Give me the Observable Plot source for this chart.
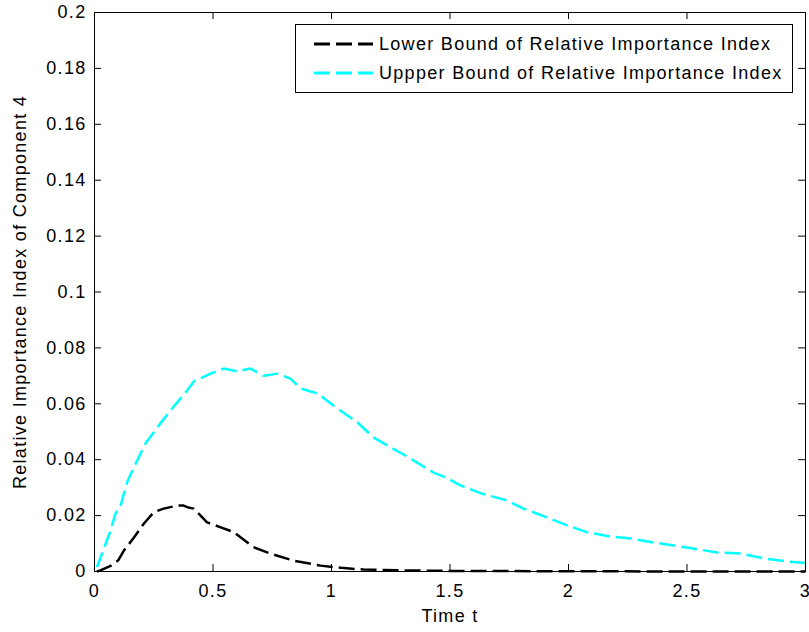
<!DOCTYPE html>
<html>
<head>
<meta charset="utf-8">
<script src="https://cdn.jsdelivr.net/npm/d3@7"></script>
<script src="https://cdn.jsdelivr.net/npm/@observablehq/plot@0.6"></script>
<style>
  html, body { margin: 0; padding: 0; background: #fff; }
  #wrap { position: relative; width: 809px; height: 632px; overflow: hidden; }
  #legend { position: absolute; left: 295px; top: 24px; width: 496px; height: 67px;
    border: 1px solid #000; background: #fff; font-family: "Liberation Sans", Arial, sans-serif;
    font-size: 18px; letter-spacing: 1.3px; color: #000; }
  .row { position: absolute; left: 0; height: 20px; display: flex; align-items: center; }
  .row svg { margin-left: 18px; margin-right: 6px; }
</style>
</head>
<body>
<div id="wrap"></div>
<script>
// Lower bound series (black)
const lowerT = [0.01, 0.025, 0.068, 0.1, 0.124, 0.165, 0.194, 0.207, 0.25, 0.292, 0.35, 0.376, 0.392, 0.419, 0.435, 0.475, 0.53, 0.587, 0.671, 0.743, 0.84, 0.954, 1.04, 1.135, 1.3, 1.5, 2.0, 2.5, 3.0];
const lowerV = [0.0, 0.0004, 0.002, 0.004, 0.0075, 0.012, 0.0154, 0.017, 0.0212, 0.0225, 0.0236, 0.0236, 0.023, 0.0225, 0.0211, 0.0176, 0.0159, 0.0141, 0.0087, 0.0064, 0.0039, 0.0021, 0.0013, 0.0007, 0.0004, 0.0002, 0.0001, 0.0, 0.0];
// Upper bound series (cyan)
const upperT = [0.01, 0.018, 0.068, 0.089, 0.11, 0.138, 0.165, 0.215, 0.278, 0.334, 0.384, 0.419, 0.49, 0.545, 0.603, 0.658, 0.714, 0.772, 0.827, 0.869, 0.941, 1.025, 1.11, 1.177, 1.249, 1.312, 1.43, 1.481, 1.544, 1.637, 1.742, 1.81, 1.911, 1.995, 2.08, 2.177, 2.262, 2.359, 2.443, 2.527, 2.628, 2.726, 2.823, 2.924, 3.0];
const upperV = [0.0015, 0.0033, 0.0147, 0.0208, 0.0236, 0.032, 0.037, 0.0458, 0.053, 0.059, 0.064, 0.068, 0.0708, 0.0726, 0.0716, 0.0726, 0.070, 0.0708, 0.069, 0.0655, 0.0637, 0.0583, 0.0533, 0.048, 0.0444, 0.0415, 0.0354, 0.0337, 0.0308, 0.0278, 0.0254, 0.0225, 0.0193, 0.0165, 0.014, 0.0125, 0.0118, 0.0104, 0.0093, 0.0082, 0.0068, 0.0064, 0.0047, 0.0036, 0.003];

const xTicks = [0, 0.5, 1, 1.5, 2, 2.5, 3];
const yTicks = [0, 0.02, 0.04, 0.06, 0.08, 0.1, 0.12, 0.14, 0.16, 0.18, 0.2];
const seriesNames = ["Lower Bound of Relative Importance Index", "Uppper Bound of Relative Importance Index"];
const seriesColors = ["#000000", "#00ffff"];
const xLabel = "Time t";
const yLabel = "Relative Importance Index of Component 4";

const lower = lowerT.map((t, i) => ({t, v: lowerV[i]}));
const upper = upperT.map((t, i) => ({t, v: upperV[i]}));

const W = 809, H = 632, mL = 94, mR = 4, mT = 12, mB = 61;
const innerW = W - mL - mR, innerH = H - mT - mB;
const tickLen = 7;
const dash = "16,6";

const chart = Plot.plot({
  width: W, height: H,
  marginLeft: mL, marginRight: mR, marginTop: mT, marginBottom: mB,
  style: {fontFamily: "'Liberation Sans', Arial, sans-serif", fontSize: "18px", letterSpacing: "1.3px", color: "#000", background: "#fff", overflow: "visible"},
  x: {domain: [0, 3]},
  y: {domain: [0, 0.2]},
  marks: [
    Plot.line(upper, {x: "t", y: "v", stroke: seriesColors[1], strokeWidth: 2.5, strokeDasharray: dash, strokeLinecap: "butt"}),
    Plot.line(lower, {x: "t", y: "v", stroke: seriesColors[0], strokeWidth: 2.5, strokeDasharray: dash, strokeLinecap: "butt"}),
    Plot.frame({stroke: "#000", strokeWidth: 1}),
    // inward ticks on all four sides
    Plot.tickX(xTicks, {x: d => d, stroke: "#000", insetTop: innerH - tickLen}),
    Plot.tickX(xTicks, {x: d => d, stroke: "#000", insetBottom: innerH - tickLen}),
    Plot.tickY(yTicks, {y: d => d, stroke: "#000", insetRight: innerW - tickLen}),
    Plot.tickY(yTicks, {y: d => d, stroke: "#000", insetLeft: innerW - tickLen}),
    Plot.axisX({ticks: xTicks, tickSize: 0, tickPadding: 13, tickFormat: d => String(d), label: null, fill: "#000"}),
    Plot.axisY({ticks: yTicks, tickSize: 0, tickPadding: 8, tickFormat: d => String(d), label: null, fill: "#000"}),
    Plot.text([xLabel], {text: d => d, frameAnchor: "bottom", dy: 45, fill: "#000", lineAnchor: "middle", textAnchor: "middle"}),
    Plot.text([yLabel], {text: d => d, frameAnchor: "left", dx: -74, rotate: -90, fill: "#000", lineAnchor: "middle", textAnchor: "middle"})
  ]
});

const wrap = document.getElementById("wrap");
wrap.appendChild(chart);

const legend = document.createElement("div");
legend.id = "legend";
seriesNames.forEach((name, i) => {
  const row = document.createElement("div");
  row.className = "row";
  row.style.top = (i === 0 ? 9 : 38) + "px";
  row.innerHTML = `<svg width="59" height="6"><line x1="0" y1="3" x2="59" y2="3" stroke="${seriesColors[i]}" stroke-width="3" stroke-dasharray="${dash}"/></svg><span>${name}</span>`;
  legend.appendChild(row);
});
wrap.appendChild(legend);
</script>
</body>
</html>
